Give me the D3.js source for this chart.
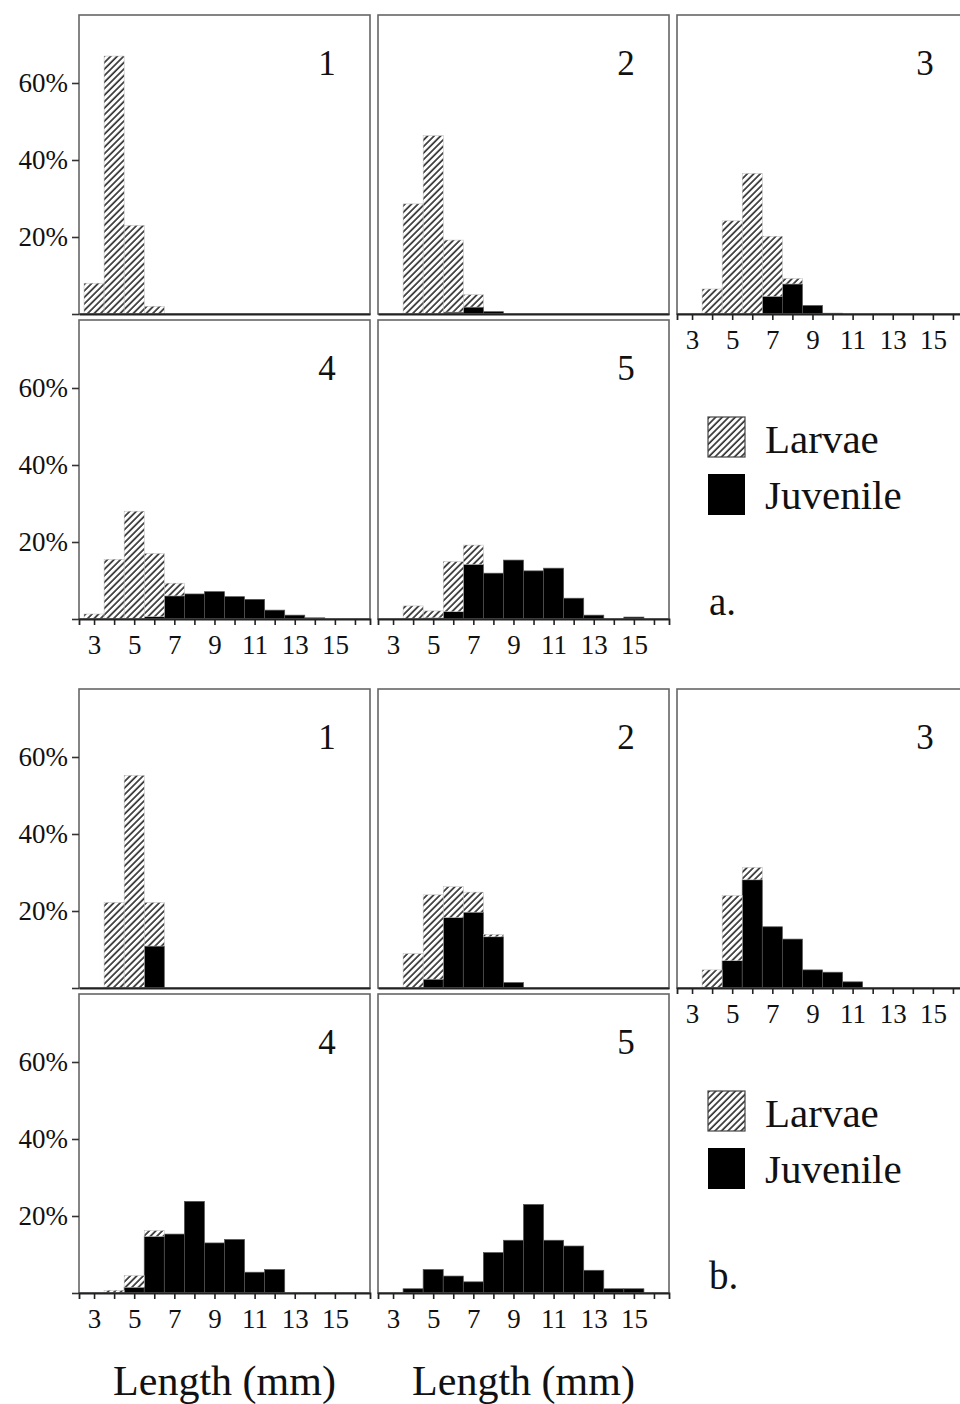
<!DOCTYPE html>
<html>
<head>
<meta charset="utf-8">
<script src="https://cdn.jsdelivr.net/npm/d3@7"></script>
<style>
  body { margin: 0; background: #fff; }
  svg text { font-family: "Liberation Serif", "Times New Roman", serif; fill: #111; }
</style>
</head>
<body>
<svg id="chart" width="960" height="1404"></svg>
<script>
// Length classes (mm), one bar per class
const lengths = [3, 4, 5, 6, 7, 8, 9, 10, 11, 12, 13, 14, 15];
const xTicks = [3, 4, 5, 6, 7, 8, 9, 10, 11, 12, 13, 14, 15, 16];
const xTickLabels = [3, 5, 7, 9, 11, 13, 15];
const yTicks = [0, 20, 40, 60];
const panelNames = ['1', '2', '3', '4', '5'];
const figureNames = ['a.', 'b.'];
const seriesNames = ['Larvae', 'Juvenile'];

// Percentages per panel (rows = panels 1..5, columns = lengths)
const larvaeA = [
  [8, 67, 23, 2, 0, 0, 0, 0, 0, 0, 0, 0, 0],
  [0, 28.6, 46.3, 18.7, 3.2, 0, 0, 0, 0, 0, 0, 0, 0],
  [0, 6.5, 24.2, 36.5, 15.6, 1.4, 0, 0, 0, 0, 0, 0, 0],
  [1.3, 15.5, 28, 16.4, 3.3, 0, 0, 0, 0, 0, 0, 0, 0],
  [0, 3.4, 1.8, 13.0, 5.0, 0, 0, 0, 0, 0, 0, 0, 0]
];
const juvenileA = [
  [0, 0, 0, 0, 0, 0, 0, 0, 0, 0, 0, 0, 0],
  [0, 0, 0, 0.5, 1.8, 0.6, 0, 0, 0, 0, 0, 0, 0],
  [0, 0, 0, 0, 4.6, 7.8, 2.2, 0.2, 0, 0, 0, 0, 0],
  [0, 0, 0, 0.6, 6, 6.5, 7.1, 5.8, 5.1, 2.3, 1, 0.3, 0],
  [0, 0, 0.3, 1.9, 14.2, 11.9, 15.3, 12.5, 13.2, 5.4, 1.0, 0, 0.5]
];
const larvaeB = [
  [0, 22.2, 55.2, 11.3, 0, 0, 0, 0, 0, 0, 0, 0, 0],
  [0, 8.9, 21.9, 8.0, 5.2, 0.6, 0, 0, 0, 0, 0, 0, 0],
  [0, 4.5, 16.9, 3.2, 0, 0, 0, 0, 0, 0, 0, 0, 0],
  [0, 0.7, 3.0, 1.5, 0, 0, 0, 0, 0, 0, 0, 0, 0],
  [0, 0, 0, 0, 0, 0, 0, 0, 0, 0, 0, 0, 0]
];
const juvenileB = [
  [0, 0, 0, 10.9, 0, 0, 0, 0, 0, 0, 0, 0, 0],
  [0, 0, 2.3, 18.3, 19.7, 13.3, 1.4, 0, 0, 0, 0, 0, 0],
  [0, 0.2, 7.1, 28.1, 15.9, 12.7, 4.7, 4.1, 1.6, 0, 0, 0, 0],
  [0, 0, 1.5, 14.7, 15.3, 23.8, 13, 13.9, 5.4, 6.1, 0, 0, 0],
  [0, 1.1, 6.1, 4.4, 2.9, 10.5, 13.7, 23, 13.7, 12.2, 5.9, 1.1, 1.1]
];

// Layout
const panelW = 291, panelH = 299;
const colX = [79, 378, 677];
const rowY = [15, 320];
const figOffset = [0, 674];
// panel index -> [col, row]
const panelPos = [[0, 0], [1, 0], [2, 0], [0, 1], [1, 1]];

const x = d3.scaleLinear().domain([2.25, 16.75]).range([0, panelW]);
const y = d3.scaleLinear().domain([0, 77.66]).range([panelH, 0]);

const svg = d3.select('#chart');

// Hatch pattern for larvae
const defs = svg.append('defs');
const pat = defs.append('pattern')
    .attr('id', 'hatch')
    .attr('patternUnits', 'userSpaceOnUse')
    .attr('width', 4.6)
    .attr('height', 4.6)
    .attr('patternTransform', 'rotate(45)');
pat.append('rect').attr('width', 4.6).attr('height', 4.6).attr('fill', '#fff');
pat.append('line')
    .attr('x1', 1).attr('y1', 0).attr('x2', 1).attr('y2', 4.6)
    .attr('stroke', '#333').attr('stroke-width', 1.7);

const figures = [
  { larvae: larvaeA, juvenile: juvenileA },
  { larvae: larvaeB, juvenile: juvenileB }
];

figures.forEach((fig, f) => {
    const g = svg.append('g').attr('transform', `translate(0,${figOffset[f]})`);

    panelPos.forEach(([c, r], p) => {
        const pg = g.append('g').attr('transform', `translate(${colX[c]},${rowY[r]})`);

        pg.append('rect')
            .attr('width', panelW).attr('height', panelH)
            .attr('fill', '#fff');

        const rows = lengths.map((len, i) => ({
            len: len,
            juv: fig.juvenile[p][i],
            lar: fig.larvae[p][i]
        }));

        // Juvenile at the bottom
        pg.selectAll('.juv')
            .data(rows.filter(d => d.juv > 0))
            .enter().append('rect')
            .attr('class', 'juv')
            .attr('x', d => x(d.len - 0.5))
            .attr('width', d => x(d.len + 0.5) - x(d.len - 0.5))
            .attr('y', d => y(d.juv))
            .attr('height', d => y(0) - y(d.juv))
            .attr('fill', '#000')
            .attr('stroke', '#555')
            .attr('stroke-width', 0.7);

        // Larvae stacked on top
        pg.selectAll('.lar')
            .data(rows.filter(d => d.lar > 0))
            .enter().append('rect')
            .attr('class', 'lar')
            .attr('x', d => x(d.len - 0.5))
            .attr('width', d => x(d.len + 0.5) - x(d.len - 0.5))
            .attr('y', d => y(d.juv + d.lar))
            .attr('height', d => y(d.juv) - y(d.juv + d.lar))
            .attr('fill', 'url(#hatch)')
            .attr('stroke', '#bbb')
            .attr('stroke-width', 0.5);

        // Frame
        pg.append('rect')
            .attr('width', panelW).attr('height', panelH)
            .attr('fill', 'none')
            .attr('stroke', '#666')
            .attr('stroke-width', 1.6);

        // X axis (ticks on the bottom row of each column)
        const showX = (r === 1) || (c === 2);
        const xAxis = d3.axisBottom(x)
            .tickValues(xTicks)
            .tickSize(showX ? 6 : 0)
            .tickPadding(10)
            .tickFormat(d => (showX && xTickLabels.includes(d)) ? d : '');
        const xg = pg.append('g')
            .attr('transform', `translate(0,${panelH})`)
            .call(xAxis);
        xg.select('.domain').attr('stroke', '#222').attr('stroke-width', 1.8);
        xg.selectAll('.tick line').attr('stroke', '#222').attr('stroke-width', 1.6);
        xg.selectAll('text').attr('font-size', 27).attr('fill', '#111');

        // Y axis on the first column
        if (c === 0) {
            const yAxis = d3.axisLeft(y)
                .tickValues(yTicks)
                .tickSize(7)
                .tickPadding(4)
                .tickFormat(d => d === 0 ? '' : d + '%');
            const yg = pg.append('g').call(yAxis);
            yg.select('.domain').remove();
            yg.selectAll('.tick line').attr('stroke', '#333').attr('stroke-width', 1.6);
            yg.selectAll('text').attr('font-size', 27).attr('fill', '#111');
        }

        // Panel number
        pg.append('text')
            .attr('x', panelW - 43)
            .attr('y', 60)
            .attr('text-anchor', 'middle')
            .attr('font-size', 35)
            .text(panelNames[p]);
    });

    // Legend
    const lg = g.append('g').attr('transform', 'translate(708,417)');
    lg.append('rect')
        .attr('width', 37).attr('height', 40)
        .attr('fill', 'url(#hatch)')
        .attr('stroke', '#444').attr('stroke-width', 1.2);
    lg.append('rect')
        .attr('y', 57)
        .attr('width', 37).attr('height', 41)
        .attr('fill', '#000');
    lg.append('text').attr('x', 57).attr('y', 36).attr('font-size', 41).text(seriesNames[0]);
    lg.append('text').attr('x', 57).attr('y', 92).attr('font-size', 41).text(seriesNames[1]);

    g.append('text')
        .attr('x', 709).attr('y', 615)
        .attr('font-size', 39)
        .text(figureNames[f]);
});

// Axis titles
[0, 1].forEach(c => {
    svg.append('text')
        .attr('x', colX[c] + panelW / 2)
        .attr('y', 1395)
        .attr('text-anchor', 'middle')
        .attr('font-size', 42)
        .text('Length (mm)');
});
</script>
</body>
</html>
